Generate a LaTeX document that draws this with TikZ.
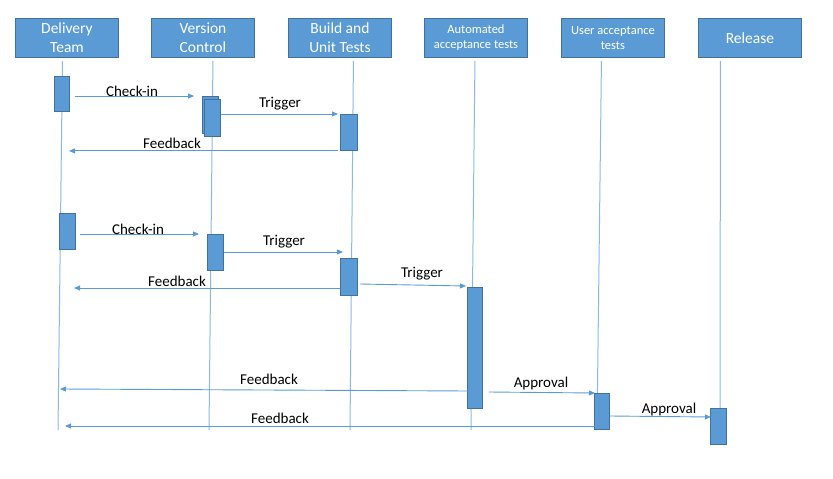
\documentclass[tikz,border=0pt]{standalone}
\usepackage{fontspec}
\setmainfont{Carlito}
\usetikzlibrary{arrows.meta,calc}
\definecolor{boxblue}{RGB}{91,155,213}
\definecolor{boxedge}{RGB}{65,113,156}
\definecolor{lifeblue}{RGB}{140,185,228}
\definecolor{msgblue}{RGB}{91,155,213}
\tikzset{
  head/.style={draw=boxedge, fill=boxblue, line width=0.9pt, minimum width=103pt, minimum height=39pt, inner sep=0pt, anchor=north west, text=white, align=center},
  headbig/.style={font=\fontsize{15.5}{19}\selectfont},
  headsmall/.style={font=\fontsize{12.5}{15}\selectfont},
  act/.style={draw=boxedge, fill=boxblue, line width=0.9pt, minimum width=15pt, minimum height=36pt, inner sep=0pt, anchor=north west},
  life/.style={draw=lifeblue, line width=1pt},
  msg/.style={draw=msgblue, line width=0.9pt, -{Triangle[length=6pt,width=5pt]}},
  lbl/.style={font=\fontsize{15}{17}\selectfont, anchor=base, inner sep=0pt, text=black}
}
\begin{document}
\begin{tikzpicture}[x=1pt,y=-1pt]
\useasboundingbox (0,0) rectangle (833,479);
% headers
\node[head,headbig] (hd) at (15,18) {Delivery\\Team};
\node[head,headbig] (hv) at (151,18) {Version\\Control};
\node[head,headbig] (hb) at (288,18) {Build and\\Unit Tests};
\node[head,headsmall] (ha) at (424,18) {Automated\\acceptance tests};
\node[head,headsmall] (hu) at (561,18) {User acceptance\\tests};
\node[head,headbig] (hr) at (698,18) {Release};
% lifeline ends
\coordinate (ed) at (58,430);
\coordinate (ev) at (209,430);
\coordinate (eb) at (350,430);
\coordinate (ea) at (471,430);
\coordinate (eu) at (597,430);
\coordinate (er) at (720,408);
\draw[life] ([xshift=-4.5pt,yshift=-3pt]hd.south) -- (ed);
\draw[life] ([xshift=10pt,yshift=-3pt]hv.south) -- (ev);
\draw[life] ([xshift=13.5pt,yshift=-3pt]hb.south) -- (eb);
\draw[life] ([xshift=-1pt,yshift=-3pt]ha.south) -- (ea);
\draw[life] ([xshift=-11.5pt,yshift=-3pt]hu.south) -- (eu);
\draw[life] ([xshift=-29.5pt,yshift=-3pt]hr.south) -- (er);
% activation boxes
\node[act, minimum height=35pt] (d1) at (54,76) {};
\node[act, minimum width=16pt, minimum height=37pt] (v1a) at (202,96) {};
\node[act, minimum width=16pt, minimum height=37pt] (v1b) at (204,99) {};
\node[act, minimum width=17pt] (b1) at (340,114) {};
\node[act, minimum width=16pt] (d2) at (59,213) {};
\node[act, minimum width=16pt] (v2) at (207,234) {};
\node[act, minimum width=17pt, minimum height=37pt] (b2) at (340,258) {};
\node[act, minimum height=121pt] (a1) at (467,287) {};
\node[act] (u1) at (594,393) {};
\node[act, minimum width=16pt] (r1) at (710,408) {};
% messages group 1
\draw[msg] ([xshift=5pt]d1.east |- v1a.north) -- ([xshift=-8pt]v1a.north west);
\draw[msg] (v1b.east |- b1.north) -- ([xshift=-2pt]b1.north west);
\draw[msg] ([xshift=-2pt]b1.south west) -- ([xshift=11pt]ed |- b1.south);
% messages group 2
\draw[msg] ([xshift=4pt]d2.east |- v2.north) -- ([xshift=-8pt]v2.north west);
\draw[msg] ([yshift=-18pt]v2.north east) -- ([xshift=3pt,yshift=6pt]b2.north west);
\draw[msg] ([yshift=-30pt]b2.north west) -- ([xshift=16pt,yshift=-30pt]ed |- b2.north);
\draw[msg] ([xshift=2pt,yshift=-26pt]b2.north east) -- ([xshift=-1pt,yshift=1pt]a1.north west);
% messages group 3
\draw[msg] ([xshift=2pt,yshift=-104pt]a1.north west) -- ([xshift=2pt]ed |- 0,389);
\draw[msg] ([xshift=6pt,yshift=-105pt]a1.north east) -- ([xshift=1pt]u1.north west);
\draw[msg] ([yshift=-23pt]u1.north east) -- ([xshift=1pt,yshift=-9pt]r1.north west);
\draw[msg] ([xshift=2pt,yshift=-33pt]u1.north west) -- ([xshift=7pt]ed |- 0,426);
% labels
\node[lbl] (l1) at (132,96) {Check-in};
\node[lbl] (l2) at (280,107) {Trigger};
\node[lbl] (l3) at (172,148) {Feedback};
\node[lbl] (l4) at (138,234) {Check-in};
\node[lbl] (l5) at (284,245) {Trigger};
\node[lbl] (l6) at (177,286) {Feedback};
\node[lbl] (l7) at (422,277) {Trigger};
\node[lbl] (l8) at (269,384) {Feedback};
\node[lbl] (l9) at (541,387) {Approval};
\node[lbl] (l10) at (669,413) {Approval};
\node[lbl] (l11) at (280,423) {Feedback};
\end{tikzpicture}
\end{document}
